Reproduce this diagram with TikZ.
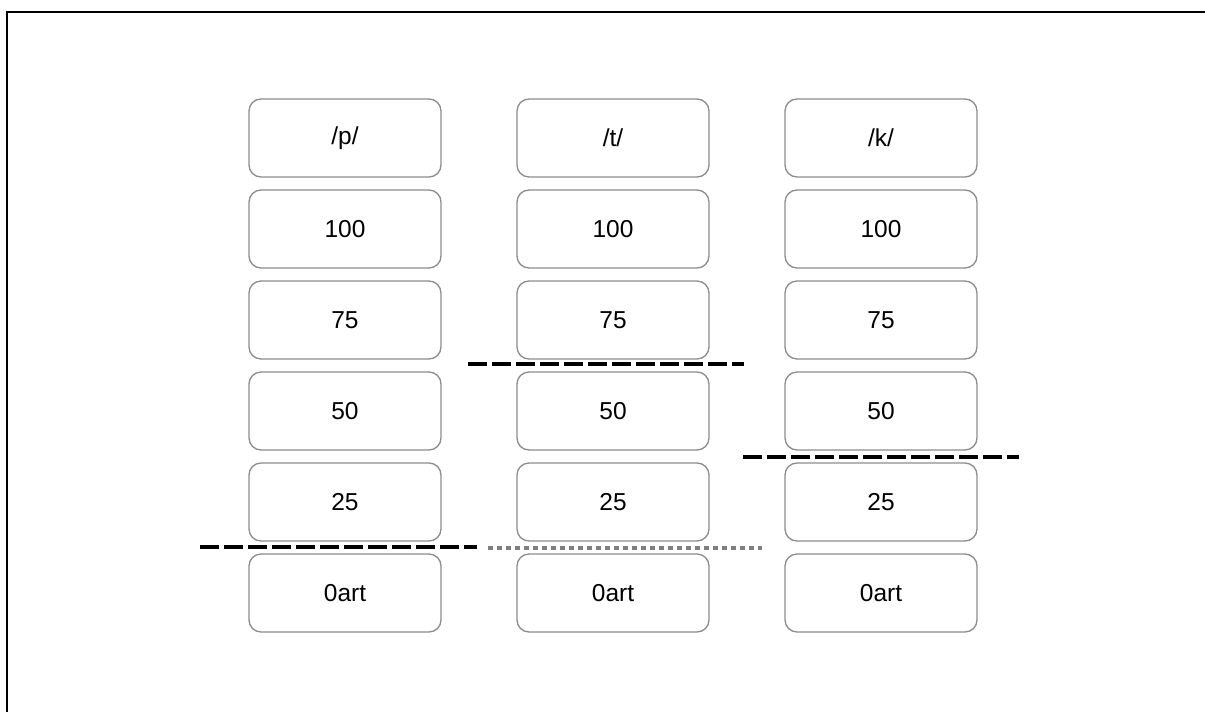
\documentclass[tikz,border=0pt]{standalone}
\usepackage{fontspec}
\setmainfont{Liberation Sans}
\begin{document}
\begin{tikzpicture}[x=1pt,y=-1pt,
  cell/.style={draw=black!45,line width=1.3pt,rounded corners=12pt,minimum width=192pt,minimum height=78pt,inner sep=0pt,font=\fontsize{24.5}{28}\selectfont,fill=white},
  cut/.style={line width=4pt,dash pattern=on 19pt off 5pt},
  cutdot/.style={line width=3.5pt,draw=black!50,dash pattern=on 4.5pt off 4.5pt},
  frame/.style={line width=2pt}]
\useasboundingbox (0,0) rectangle (1205,712);
% frame
\draw[frame] (7,712) -- (7,12) -- (160,12);
\draw[line width=1.2pt] (160,12) -- (1058,12);
\draw[frame] (1058,12) -- (1205,12);
% columns
\node[cell] (p0) at (345,138) {/p/};
\node[cell] (p1) at (345,229) {100};
\node[cell] (p2) at (345,320) {75};
\node[cell] (p3) at (345,411) {50};
\node[cell] (p4) at (345,502) {25};
\node[cell] (p5) at (345,593) {0art};
\node[cell] (t0) at (613,138) {/t/};
\node[cell] (t1) at (613,229) {100};
\node[cell] (t2) at (613,320) {75};
\node[cell] (t3) at (613,411) {50};
\node[cell] (t4) at (613,502) {25};
\node[cell] (t5) at (613,593) {0art};
\node[cell] (k0) at (881,138) {/k/};
\node[cell] (k1) at (881,229) {100};
\node[cell] (k2) at (881,320) {75};
\node[cell] (k3) at (881,411) {50};
\node[cell] (k4) at (881,502) {25};
\node[cell] (k5) at (881,593) {0art};
% cut lines
\coordinate (pa) at (200,547); \coordinate (pb) at (477,547);
\coordinate (ta) at (468,364); \coordinate (tb) at (744,364);
\coordinate (ka) at (743,457); \coordinate (kb) at (1019,457);
\coordinate (da) at (488,548); \coordinate (db) at (762,548);
\draw[cut] (pa) -- (pb);
\draw[cut] (ta) -- (tb);
\draw[cut] (ka) -- (kb);
\draw[cutdot] (da) -- (db);
\end{tikzpicture}
\end{document}
